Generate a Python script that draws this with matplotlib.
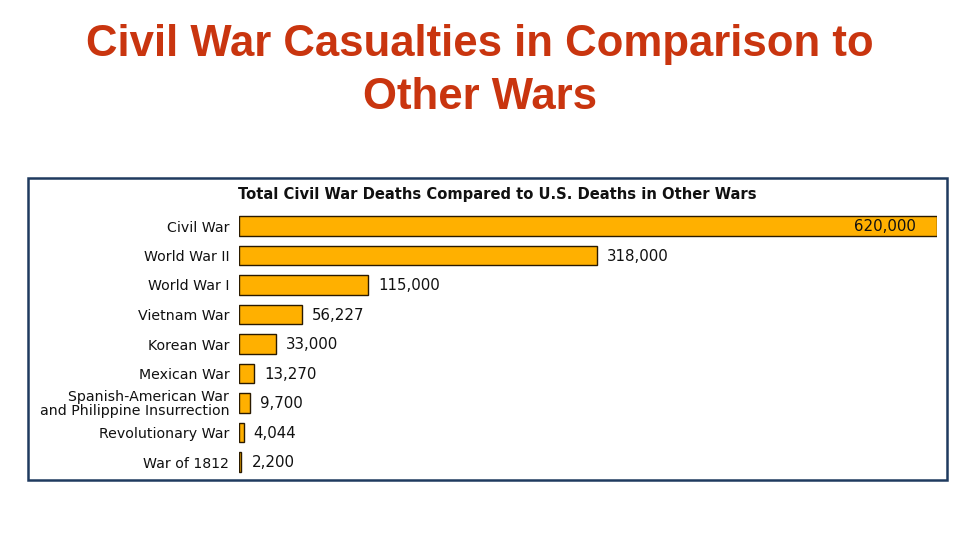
"""Civil War deaths compared to U.S. deaths in other wars."""
import matplotlib

matplotlib.use("Agg")
import matplotlib.pyplot as plt
from matplotlib.patches import Rectangle

WARS = [
    "Civil War",
    "World War II",
    "World War I",
    "Vietnam War",
    "Korean War",
    "Mexican War",
    "Spanish-American War\nand Philippine Insurrection",
    "Revolutionary War",
    "War of 1812",
]
DEATHS = [620000, 318000, 115000, 56227, 33000, 13270, 9700, 4044, 2200]

BAR_COLOR = "#FFB000"
TITLE_RED = "#C9350F"
FRAME = "#1F3A5F"
CHART_FONT = ["DejaVu Sans"]

plt.rcParams["font.family"] = ["Liberation Sans", "DejaVu Sans"]

fig = plt.figure(figsize=(9.6, 5.4), dpi=100)
fig.text(0.5, 1 - 71 / 540, "Civil War Casualties in Comparison to\nOther Wars", ha="center", va="center",
         fontsize=31.5, weight="bold", color=TITLE_RED, linespacing=1.38)

# framed panel
fig.add_artist(Rectangle((28 / 960, 1 - 480 / 540), 919 / 960, 302 / 540, transform=fig.transFigure,
                         fill=False, edgecolor=FRAME, linewidth=1.8))
fig.text(238 / 960, 1 - 194 / 540, "Total Civil War Deaths Compared to U.S. Deaths in Other Wars",
         ha="left", va="center", fontsize=10.6, weight="bold", color="#111111", family=CHART_FONT)

ax = fig.add_axes([239 / 960, 1 - 476.75 / 540, 698 / 960, 265.5 / 540])
positions = list(range(len(WARS)))
ax.barh(positions, DEATHS, height=0.66, color=BAR_COLOR, edgecolor="#2a1a00", linewidth=1.0)
ax.set_xlim(0, DEATHS[0])
ax.set_ylim(len(WARS) - 0.5, -0.5)
ax.set_yticks(positions)
ax.set_yticklabels(WARS, fontsize=10.2, color="#111111", linespacing=0.95, family=CHART_FONT)
ax.tick_params(axis="y", length=0, pad=7)
ax.set_xticks([])
for side in ax.spines.values():
    side.set_visible(False)

scale = DEATHS[0] / 698
for pos, value in zip(positions, DEATHS):
    label = f"{value:,}"
    if value == DEATHS[0]:
        ax.text(value - 21 * scale, pos + 0.03, label, ha="right", va="center", fontsize=10.8,
                color="#111111", family=CHART_FONT)
    else:
        ax.text(value + 10 * scale, pos + 0.03, label, ha="left", va="center", fontsize=10.8,
                color="#111111", family=CHART_FONT)

fig.savefig("out.png", dpi=100)
